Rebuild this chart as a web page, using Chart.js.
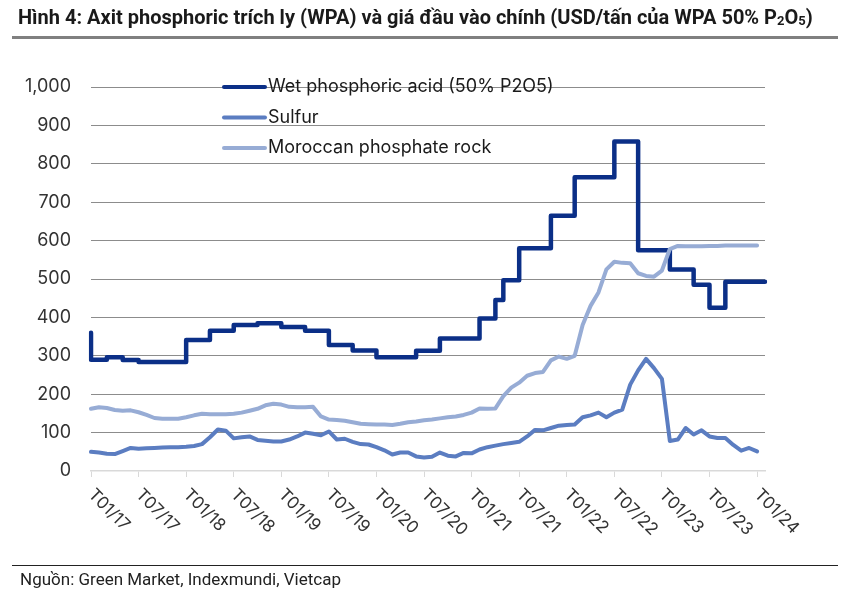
<!DOCTYPE html>
<html>
<head>
<meta charset="utf-8">
<script src="https://cdn.jsdelivr.net/npm/chart.js@4.4.1/dist/chart.umd.min.js"></script>
<style>
  body { margin: 0; background: #fff; }
  #wrap { position: relative; width: 850px; height: 596px; }
  #c { position: absolute; left: 0; top: 0; }
  .title { position: absolute; left: 18px; top: 5px; font: bold 20px Roboto, sans-serif; color: #1a1a1a; white-space: nowrap; }
  .title sub { font-size: 13px; vertical-align: -1px; }
  .rule1 { position: absolute; left: 12px; top: 36px; width: 826px; height: 3px; background: #808080; }
  .rule2 { position: absolute; left: 12px; top: 565px; width: 826px; height: 1px; background: #222; }
  .source { position: absolute; left: 20px; top: 569px; font: 17px Roboto, sans-serif; color: #222; }
</style>
</head>
<body>
<div id="wrap">
  <canvas id="c" width="850" height="596"></canvas>
  <div class="title">Hình 4: Axit phosphoric trích ly (WPA) và giá đầu vào chính (USD/tấn của WPA 50% P<sub>2</sub>O<sub>5</sub>)</div>
  <div class="rule1"></div>
  <div class="rule2"></div>
  <div class="source">Nguồn: Green Market, Indexmundi, Vietcap</div>
</div>
<script>
// monthly, T01/17 .. T02/24
const tickLabels = ['T01/17', 'T07/17', 'T01/18', 'T07/18', 'T01/19', 'T07/19', 'T01/20', 'T07/20',
  'T01/21', 'T07/21', 'T01/22', 'T07/22', 'T01/23', 'T07/23', 'T01/24'];

const seriesNames = ['Wet phosphoric acid (50% P2O5)', 'Sulfur', 'Moroccan phosphate rock'];

const wpa = [360, 290, 290, 296, 296, 289, 289, 284, 284, 284, 284, 284, 284,
  341, 341, 341, 365, 365, 365, 380, 380, 380, 385, 385, 385, 375, 375, 375,
  365, 365, 365, 328, 328, 328, 314, 314, 314, 296, 296, 296, 296, 296,
  313, 313, 313, 345, 345, 345, 345, 345, 397, 397, 445, 497, 497,
  580, 580, 580, 580, 665, 665, 665, 765, 765, 765, 765, 765, 858, 858, 858,
  575, 575, 575, 575, 525, 525, 525, 485, 485, 425, 425, 493, 493, 493, 493, 493];

const sulfur = [50, 48, 45, 44, 52, 60, 58, 59, 60, 61, 62, 62, 63, 65, 70, 88, 108, 105, 85, 88,
  90, 81, 79, 77, 77, 82, 90, 100, 97, 93, 103, 82, 84, 76, 70, 69, 62, 54, 43, 48,
  48, 38, 35, 37, 48, 40, 38, 47, 46, 56, 62, 66, 70, 73, 76, 90, 107, 106, 112, 118,
  120, 121, 140, 145, 152, 140, 152, 160, 225, 262, 292, 268, 240, 78, 82, 112, 95, 106, 90, 86,
  86, 68, 53, 60, 51, null];

const rock = [162, 166, 164, 159, 157, 158, 153, 146, 138, 136, 136, 136, 140, 145, 149, 148, 148, 148, 149, 152,
  157, 162, 171, 175, 173, 167, 166, 166, 167, 142, 134, 133, 131, 127, 123, 122, 121, 121, 120, 123,
  127, 129, 132, 134, 137, 140, 142, 146, 152, 163, 162, 163, 195, 217, 230, 248, 255, 258, 288, 298,
  292, 300, 380, 430, 465, 525, 545, 542, 541, 515, 508, 506, 522, 578, 586, 585, 585, 585, 586, 586,
  587, 587, 587, 587, 587, null];

const colors = ['#0b2f87', '#5b7dc1', '#97acd5'];

const months = [];
for (let i = 0; i < wpa.length; i++) {
  const m = i % 12 + 1, y = 17 + Math.floor(i / 12);
  months.push('T' + String(m).padStart(2, '0') + '/' + y);
}

const overlay = {
  id: 'overlay',
  afterDraw(chart) {
    const ctx = chart.ctx;
    const x = chart.scales.x;
    ctx.save();
    ctx.font = '17px Inter, sans-serif';
    ctx.fillStyle = '#333';
    ctx.textAlign = 'left';
    ctx.textBaseline = 'middle';
    tickLabels.forEach((t, k) => {
      const px = x.getPixelForValue(k * 6);
      ctx.save();
      ctx.translate(px, x.top + 21);
      ctx.rotate(Math.PI / 4);
      ctx.fillText(t, 0, 0);
      ctx.restore();
    });
    // legend
    ctx.font = '18px Inter, sans-serif';
    ctx.fillStyle = '#1a1a1a';
    seriesNames.forEach((name, i) => {
      const y = 87 + i * 30.5;
      ctx.strokeStyle = colors[i];
      ctx.lineWidth = 4;
      ctx.lineCap = 'round';
      ctx.beginPath();
      ctx.moveTo(224, y);
      ctx.lineTo(265, y);
      ctx.stroke();
      ctx.fillText(name, 268, y);
    });
    ctx.restore();
  }
};

new Chart(document.getElementById('c'), {
  type: 'line',
  data: {
    labels: months,
    datasets: [
      { label: seriesNames[0], data: wpa, borderColor: colors[0], borderWidth: 4.5, stepped: 'after', order: 2 },
      { label: seriesNames[1], data: sulfur, borderColor: colors[1], borderWidth: 4, order: 1 },
      { label: seriesNames[2], data: rock, borderColor: colors[2], borderWidth: 4, order: 0 }
    ]
  },
  options: {
    responsive: false,
    animation: false,
    layout: { padding: { left: 0, top: 87, right: 85, bottom: 119 } },
    elements: { point: { radius: 0 }, line: { borderJoinStyle: 'round', borderCapStyle: 'round' } },
    scales: {
      x: {
        border: { color: '#d9d9d9', width: 1.5 },
        grid: {
          drawOnChartArea: false,
          tickLength: 6,
          color: c => (c.index % 6 === 0 ? '#d9d9d9' : 'transparent')
        },
        ticks: { display: false, autoSkip: false }
      },
      y: {
        min: 0,
        max: 1000,
        afterFit: s => { s.width = 91; },
        border: { display: false },
        grid: {
          drawTicks: false,
          color: c => (c.tick.value === 0 ? 'transparent' : '#8c8c8c'),
          borderDash: [1, 2]
        },
        ticks: { stepSize: 100, padding: 20, color: '#333', font: { family: 'Inter', size: 18 } }
      }
    },
    plugins: { legend: { display: false }, tooltip: { enabled: false } }
  },
  plugins: [overlay]
});
</script>
</body>
</html>
